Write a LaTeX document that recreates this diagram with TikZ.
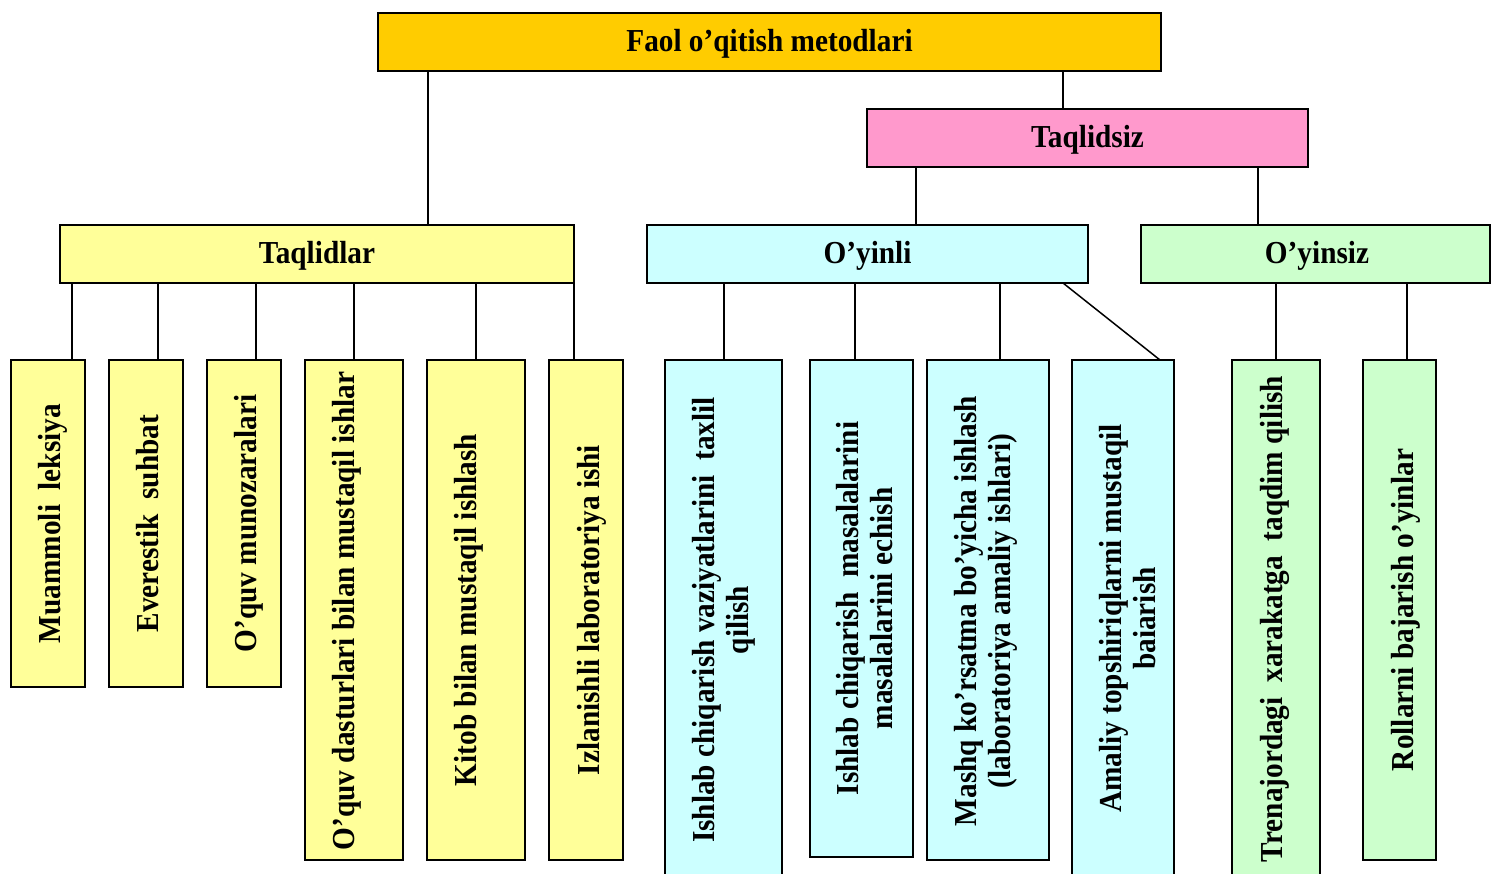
\documentclass[tikz,border=0pt]{standalone}
\usepackage{fontspec}
\setmainfont{Liberation Serif}[FakeStretch=0.915]
\definecolor{cTop}{HTML}{FFCC00}
\definecolor{cPink}{HTML}{FF99CC}
\definecolor{cYel}{HTML}{FFFF99}
\definecolor{cCyan}{HTML}{CCFFFF}
\definecolor{cGreen}{HTML}{CCFFCC}
\begin{document}
\begin{tikzpicture}[x=1pt,y=-1pt,
  box/.style={draw=black, line width=1.8pt, inner sep=0pt, outer sep=0pt},
  txt/.style={inner sep=0pt, outer sep=0pt, anchor=base, font=\bfseries\fontsize{32}{34}\selectfont},
  vtxt/.style={txt, rotate=90},
  link/.style={draw=black, line width=1.5pt}]
\useasboundingbox (0,0) rectangle (1491,873);
\clip (0,0) rectangle (1491,873);
% header boxes
\node[box, fill=cTop, minimum width=783pt, minimum height=58pt] (top) at (769.5,42) {};
\node[box, fill=cPink, minimum width=441pt, minimum height=58pt] (tsiz) at (1087.5,138) {};
\node[box, fill=cYel, minimum width=514pt, minimum height=58pt] (tql) at (317,254) {};
\node[box, fill=cCyan, minimum width=441pt, minimum height=58pt] (oyl) at (867.5,254) {};
\node[box, fill=cGreen, minimum width=349pt, minimum height=58pt] (oys) at (1315.5,254) {};
\node[txt] (topt) at (769.5,51.8) {Faol o’qitish metodlari};
\node[txt] (tsizt) at (1087.5,147.5) {Taqlidsiz};
\node[txt] (tqlt) at (317,263.5) {Taqlidlar};
\node[txt] (oylt) at (867.5,263.5) {O’yinli};
\node[txt] (oyst) at (1317,263.5) {O’yinsiz};
% leaf boxes
\node[box, fill=cYel, minimum width=74pt, minimum height=327pt] (l1) at (48,523.5) {};
\node[box, fill=cYel, minimum width=74pt, minimum height=327pt] (l2) at (146,523.5) {};
\node[box, fill=cYel, minimum width=74pt, minimum height=327pt] (l3) at (244,523.5) {};
\node[box, fill=cYel, minimum width=98pt, minimum height=500pt] (l4) at (354,610) {};
\node[box, fill=cYel, minimum width=98pt, minimum height=500pt] (l5) at (476,610) {};
\node[box, fill=cYel, minimum width=74pt, minimum height=500pt] (l6) at (586,610) {};
\node[box, fill=cCyan, minimum width=117pt, minimum height=518pt] (l7) at (723.5,619) {};
\node[box, fill=cCyan, minimum width=103pt, minimum height=497pt] (l8) at (861.5,608.5) {};
\node[box, fill=cCyan, minimum width=122pt, minimum height=500pt] (l9) at (988,610) {};
\node[box, fill=cCyan, minimum width=102pt, minimum height=518pt] (l10) at (1123,619) {};
\node[box, fill=cGreen, minimum width=88pt, minimum height=518pt] (l11) at (1276,619) {};
\node[box, fill=cGreen, minimum width=73pt, minimum height=500pt] (l12) at (1399.5,610) {};
% leaf texts (baseline x, centre y)
\node[vtxt] (t1) at (60.5,523.5) {Muammoli~ leksiya};
\node[vtxt] (t2) at (158.5,523.5) {Everestik~ suhbat};
\node[vtxt] (t3) at (256.5,523.5) {O’quv munozaralari};
\node[vtxt] (t4) at (354.5,611) {O’quv dasturlari bilan mustaqil ishlar};
\node[vtxt] (t5) at (476.5,610) {Kitob bilan mustaqil ishlash};
\node[vtxt] (t6) at (599,610) {Izlanishli laboratoriya ishi};
\node[vtxt] (t7a) at (714.5,620) {Ishlab chiqarish vaziyatlarini~ taxlil};
\node[vtxt] (t7b) at (748.5,620) {qilish};
\node[vtxt] (t8a) at (858.5,608.5) {Ishlab chiqarish~ masalalarini};
\node[vtxt] (t8b) at (892.5,608.5) {masalalarini echish};
\node[vtxt] (t9a) at (976.5,611) {Mashq ko’rsatma bo’yicha ishlash};
\node[vtxt] (t9b) at (1010.5,611) {(laboratoriya amaliy ishlari)};
\node[vtxt] (t10a) at (1121,618.5) {Amaliy topshiriqlarni mustaqil};
\node[vtxt] (t10b) at (1155,618.5) {baiarish};
\node[vtxt] (t11) at (1282.5,619) {Trenajordagi~ xarakatga~ taqdim qilish};
\node[vtxt] (t12) at (1413,610) {Rollarni bajarish o’yinlar};
% connector x positions
\coordinate (xa) at (428,0);
\coordinate (xb) at (1063,0);
\coordinate (xc) at (916,0);
\coordinate (xd) at (1258,0);
\coordinate (x1) at (72,0);
\coordinate (x2) at (158,0);
\coordinate (x3) at (256,0);
\coordinate (x4) at (354,0);
\coordinate (x5) at (476,0);
\coordinate (x6) at (574,0);
\coordinate (x7) at (724,0);
\coordinate (x8) at (855,0);
\coordinate (x9) at (1000,0);
\coordinate (x10a) at (1063,0);
\coordinate (x10b) at (1160,0);
\coordinate (x11) at (1276,0);
\coordinate (x12) at (1407,0);
% connectors
\draw[link] (top.south -| xa) -- (tql.north -| xa);
\draw[link] (top.south -| xb) -- (tsiz.north -| xb);
\draw[link] (tsiz.south -| xc) -- (oyl.north -| xc);
\draw[link] (tsiz.south -| xd) -- (oys.north -| xd);
\draw[link] (tql.south -| x1) -- (l1.north -| x1);
\draw[link] (tql.south -| x2) -- (l2.north -| x2);
\draw[link] (tql.south -| x3) -- (l3.north -| x3);
\draw[link] (tql.south -| x4) -- (l4.north -| x4);
\draw[link] (tql.south -| x5) -- (l5.north -| x5);
\draw[link] (tql.south -| x6) -- (l6.north -| x6);
\draw[link] (oyl.south -| x7) -- (l7.north -| x7);
\draw[link] (oyl.south -| x8) -- (l8.north -| x8);
\draw[link] (oyl.south -| x9) -- (l9.north -| x9);
\draw[link] (oyl.south -| x10a) -- (l10.north -| x10b);
\draw[link] (oys.south -| x11) -- (l11.north -| x11);
\draw[link] (oys.south -| x12) -- (l12.north -| x12);
\end{tikzpicture}
\end{document}
